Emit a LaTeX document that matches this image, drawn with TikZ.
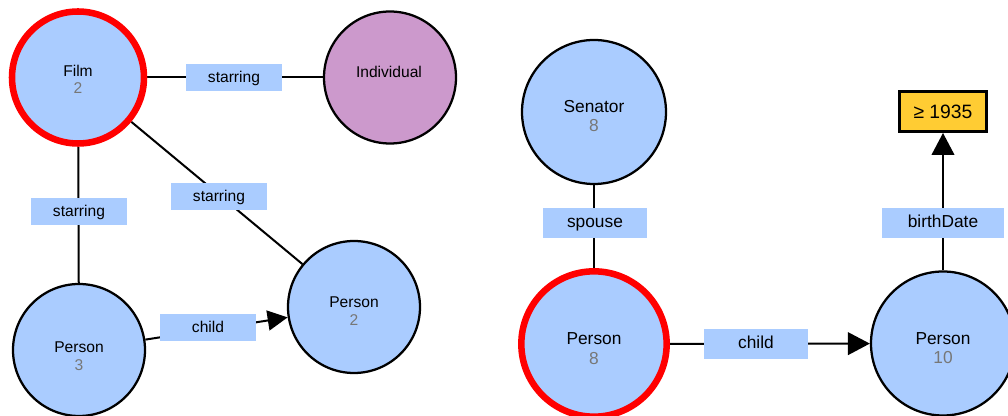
\documentclass[tikz,border=0pt]{standalone}
\usepackage{fontspec}
\setmainfont{Liberation Sans}
\usetikzlibrary{arrows.meta}
\definecolor{nodeblue}{HTML}{AACCFF}
\definecolor{nodepurple}{HTML}{CC99CC}
\definecolor{litgold}{HTML}{FFCC33}
\definecolor{countgray}{HTML}{777777}
\pgfdeclarelayer{edges}
\pgfsetlayers{edges,main}
\begin{document}
\begin{tikzpicture}[x=0.75pt,y=-0.75pt,
  cls/.style={circle, draw=black, line width=1.7pt, fill=nodeblue, inner sep=0pt},
  smallc/.style={minimum size=99pt},
  bigc/.style={minimum size=108pt},
  focus/.style={draw=red, line width=4.9pt},
  leftfont/.style={font=\fontsize{11.7}{14}\selectfont},
  rightfont/.style={font=\fontsize{13}{16}\selectfont},
  nametxt/.style={anchor=base, text=black, inner sep=0pt},
  numtxt/.style={anchor=base, text=countgray, inner sep=0pt},
  lbl/.style={fill=nodeblue, inner sep=0pt, text height=0.74em, text depth=0pt},
  lblL/.style={lbl, leftfont, minimum width=72pt, minimum height=20.25pt},
  lblR/.style={lbl, rightfont, minimum height=22.5pt},
  edge/.style={line width=1.5pt},
  arrL/.style={edge, -{Triangle[length=15pt,width=15pt]}},
  arrR/.style={edge, -{Triangle[length=16.5pt,width=17pt]}},
  valbox/.style={draw=black, line width=2.25pt, fill=litgold, minimum width=65pt,
    minimum height=30pt, inner sep=0pt, font=\fontsize{14.5}{17}\selectfont}
]
\clip (0,0) rectangle (1008,416);

% ---- first pattern: films and people ----
\node[cls, smallc, focus] (film) at (78,77.5) {};
\node[cls, smallc, fill=nodepurple] (indiv) at (390,77.5) {};
\node[cls, smallc] (p3) at (79,350) {};
\node[cls, smallc] (p2) at (354,307) {};

\node[nametxt, leftfont] (film-name) at (78,76.7) {Film};
\node[numtxt, leftfont] (film-num) at (78,93.3) {2};
\node[nametxt, leftfont] (indiv-name) at (389,77.3) {Individual};
\node[nametxt, leftfont] (p3-name) at (79,352.3) {Person};
\node[numtxt, leftfont] (p3-num) at (79,370.7) {3};
\node[nametxt, leftfont] (p2-name) at (354,307.3) {Person};
\node[numtxt, leftfont] (p2-num) at (354,326) {2};

% ---- second pattern: senator's spouse and child ----
\node[cls, bigc] (sen) at (594,112) {};
\node[cls, bigc, focus, minimum size=109pt] (p8) at (594,344) {};
\node[cls, bigc] (p10) at (943,343.5) {};
\node[valbox] (year) at (943,111.5) {≥ 1935};

\node[nametxt, rightfont] (sen-name) at (594,112.3) {Senator};
\node[numtxt, rightfont] (sen-num) at (594,131.7) {8};
\node[nametxt, rightfont] (p8-name) at (594,345) {Person};
\node[numtxt, rightfont] (p8-num) at (594,365) {8};
\node[nametxt, rightfont] (p10-name) at (943,344.3) {Person};
\node[numtxt, rightfont] (p10-num) at (943,363.5) {10};

% ---- connectors, kept beneath the nodes ----
\begin{pgfonlayer}{edges}
\draw[edge] (film) -- (indiv);
\draw[edge] (film) -- (p3);
\draw[edge] (film) -- (p2);
\draw[arrL] (p3) -- (p2);
\draw[edge] (sen) -- (p8);
\draw[arrR] (p8) -- (p10);
\draw[arrR] (p10) -- (year);
\end{pgfonlayer}

% ---- edge labels ----
\node[lblL] (l-fi) at (234,77.5) {starring};
\node[lblL] (l-f3) at (79,211.5) {starring};
\node[lblL] (l-f2) at (219,196.5) {starring};
\node[lblL] (l-32) at (208,327.5) {child};
\node[lblR, minimum width=78pt] (l-sp) at (595,223) {spouse};
\node[lblR, minimum width=78pt] (l-ch) at (756,344) {child};
\node[lblR, minimum width=91.5pt] (l-bd) at (943,223) {birthDate};
\end{tikzpicture}
\end{document}
